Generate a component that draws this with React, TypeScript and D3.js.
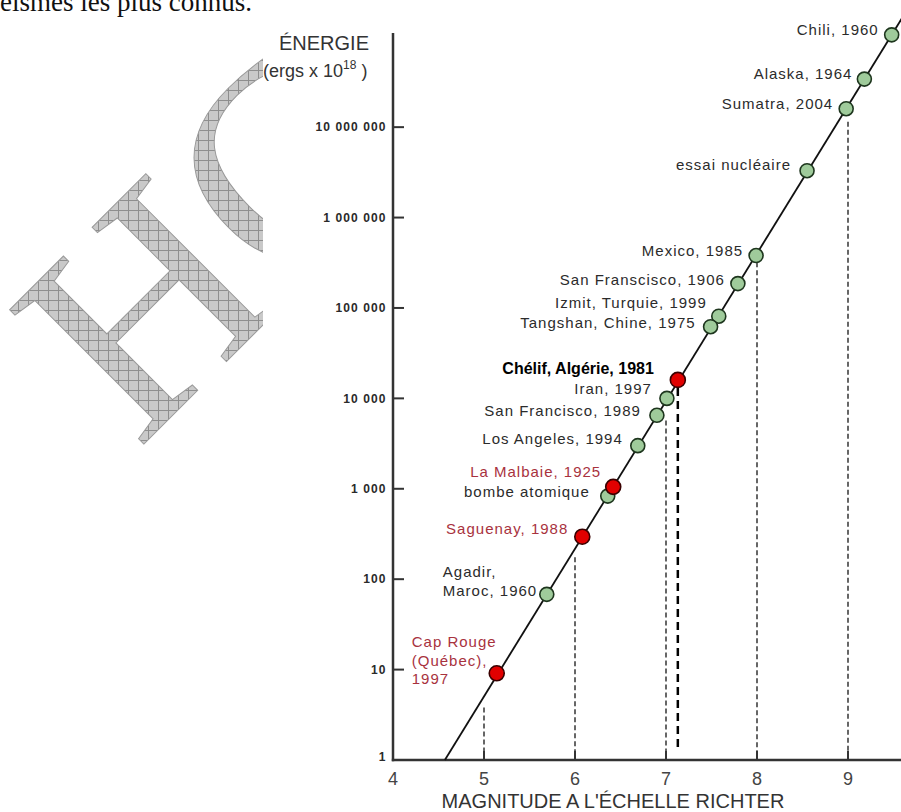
import React from "react";
import * as d3 from "d3";

// séismes : magnitude (Richter) et énergie (ergs x 10^18)
const names = [
  "Chili, 1960",
  "Alaska, 1964",
  "Sumatra, 2004",
  "essai nucléaire",
  "Mexico, 1985",
  "San Franscisco, 1906",
  "Izmit, Turquie, 1999",
  "Tangshan, Chine, 1975",
  "Chélif, Algérie, 1981",
  "Iran, 1997",
  "San Francisco, 1989",
  "Los Angeles, 1994",
  "La Malbaie, 1925",
  "bombe atomique",
  "Saguenay, 1988",
  "Agadir,|Maroc, 1960",
  "Cap Rouge|(Québec),|1997",
];
const magnitudes = [9.48, 9.18, 8.98, 8.55, 7.99, 7.79, 7.58, 7.49, 7.13, 7.01, 6.9, 6.69, 6.42, 6.36, 6.08, 5.69, 5.14];
const energies = [1.05e8, 3.4e7, 1.6e7, 3.3e6, 3.8e5, 1.86e5, 8.1e4, 6.2e4, 1.6e4, 1.0e4, 6.5e3, 3.0e3, 1.05e3, 830, 295, 68, 9.1];
const kinds = [
  "monde", "monde", "monde", "monde", "monde", "monde", "monde", "monde",
  "algerie", "monde", "monde", "monde", "quebec", "monde", "quebec", "monde", "quebec",
];

// droite magnitude / énergie
const lineMagnitudes = [4.57, 9.75];
const lineEnergies = [1, 2.9e8];

// repères pointillés (magnitude, énergie du haut du trait)
const guideMagnitudes = [5, 6, 7, 8, 9];
const guideTops = [3.8, 175, 5700, 3.2e5, 1.15e7];

const xTicks = [4, 5, 6, 7, 8, 9];
const yTicks = [1, 10, 100, 1000, 1e4, 1e5, 1e6, 1e7];

// placement des étiquettes [dx, dy, ancre]
const labelPlace: [number, number, string][] = [
  [-13, 0, "end"],
  [-12, 0, "end"],
  [-13, 0, "end"],
  [-16, -1, "end"],
  [-13, 0, "end"],
  [-13, 1, "end"],
  [-12, -8, "end"],
  [-15, 1, "end"],
  [-24, -6, "end"],
  [-15, -4, "end"],
  [-16, 1, "end"],
  [-15, -2, "end"],
  [-12, -10, "end"],
  [-18, 1, "end"],
  [-14, -3, "end"],
  [-104, -17, "start"],
  [-85, -26, "start"],
];

const SANS = "'Liberation Sans', Arial, sans-serif";

export default function App() {
  const x = d3.scaleLinear().domain([4, 10]).range([393, 939]);
  const y = d3.scaleLog().domain([1, 1.1e8]).range([760, 33]);
  const fmt = d3
    .formatLocale({ decimal: ",", thousands: " ", grouping: [3], currency: ["", ""] })
    .format(",d");

  const line = d3
    .line<number>()
    .x((i) => x(lineMagnitudes[i]))
    .y((i) => y(lineEnergies[i]));

  const order = d3.range(names.length).sort(
    (a, b) => (kinds[a] === "monde" ? 0 : 1) - (kinds[b] === "monde" ? 0 : 1)
  );
  const chelif = kinds.indexOf("algerie");

  return (
    <svg
      width={901}
      height={812}
      style={{ position: "absolute", left: 0, top: 0, background: "#fff" }}
    >
      <defs>
        <pattern id="hatch" width="10" height="10" patternUnits="userSpaceOnUse" patternTransform="rotate(45)">
          <rect width="10" height="10" fill="#c9c9c9" />
          <path d="M0 0.5H10M0.5 0V10" stroke="#8e8e8e" strokeWidth="1" />
        </pattern>
      </defs>

      {/* filigrane + texte de page */}
      <text
        transform="translate(138,450) rotate(-45)"
        fontFamily="'Liberation Serif', serif"
        fontSize={290}
        fill="url(#hatch)"
        stroke="#9a9a9a"
        strokeWidth={1}
      >
        HC
      </text>
      <text x={252} y={11} textAnchor="end" fontFamily="'Liberation Serif', serif" fontSize={27} fill="#111">
        séismes les plus connus.
      </text>
      <rect x={263} y={14} width={638} height={798} fill="#fff" />

      {/* titre axe y */}
      <text x={324} y={50} textAnchor="middle" fontFamily={SANS} fontSize={20} fill="#333">
        ÉNERGIE
      </text>
      <text x={263} y={77} fontFamily={SANS} fontSize={18} fill="#333">
        (ergs x 10
        <tspan fontSize={12} dy={-8}>18</tspan>
        <tspan dy={8}> )</tspan>
      </text>

      {/* repères pointillés */}
      {guideMagnitudes.map((m, i) => (
        <line
          key={"g" + m}
          x1={x(m)}
          x2={x(m)}
          y1={y(guideTops[i])}
          y2={y(1)}
          stroke="#666"
          strokeWidth={2}
          strokeDasharray="5 3"
        />
      ))}
      <line
        x1={x(magnitudes[chelif])}
        x2={x(magnitudes[chelif])}
        y1={y(energies[chelif]) + 8}
        y2={y(1) - 8}
        stroke="#000"
        strokeWidth={2.5}
        strokeDasharray="8 5"
      />

      {/* axes */}
      <line x1={x(4)} x2={x(4)} y1={y(1.1e8)} y2={y(1) + 1.2} stroke="#333" strokeWidth={2.5} />
      <line x1={x(4) - 1.2} x2={901} y1={y(1)} y2={y(1)} stroke="#333" strokeWidth={2.5} />
      {yTicks.map((v) => (
        <g key={"y" + v}>
          {v > 1 && <line x1={x(4)} x2={x(4) + 11} y1={y(v)} y2={y(v)} stroke="#333" strokeWidth={2} />}
          <text
            x={386.5}
            y={y(v) - (v === 1 ? 3 : 0)}
            dy="0.35em"
            textAnchor="end"
            fontFamily={SANS}
            fontSize={12}
            fontWeight="bold"
            letterSpacing={1.1}
            fill="#2a2a2a"
          >
            {fmt(v)}
          </text>
        </g>
      ))}
      {xTicks.map((v) => (
        <g key={"x" + v}>
          {v > 4 && <line x1={x(v)} x2={x(v)} y1={y(1)} y2={y(1) - 9} stroke="#333" strokeWidth={2} />}
          <text x={x(v)} y={785} textAnchor="middle" fontFamily={SANS} fontSize={18} fill="#444">
            {v}
          </text>
        </g>
      ))}
      <text x={613} y={808} textAnchor="middle" fontFamily={SANS} fontSize={20} fill="#333">
        MAGNITUDE A L'ÉCHELLE RICHTER
      </text>

      {/* droite */}
      <path d={line([0, 1]) || ""} fill="none" stroke="#111" strokeWidth={1.8} />

      {/* points */}
      {order.map((i) => {
        const red = kinds[i] !== "monde";
        return (
          <circle
            key={"p" + i}
            cx={x(magnitudes[i])}
            cy={y(energies[i])}
            r={red ? 7.5 : 7}
            fill={red ? "#e10000" : "#9fcb9b"}
            stroke={red ? "#3a0000" : "#1e361e"}
            strokeWidth={1.6}
          />
        );
      })}

      {/* étiquettes */}
      {names.map((n, i) => {
        const [dx, dy, anchor] = labelPlace[i];
        const px = x(magnitudes[i]) + dx;
        const py = y(energies[i]) + dy;
        const bold = kinds[i] === "algerie";
        const color = kinds[i] === "quebec" ? "#a8323e" : bold ? "#000" : "#2b2b2b";
        return (
          <text
            key={"l" + i}
            x={px}
            y={py}
            dy="0.35em"
            textAnchor={anchor}
            fontFamily={SANS}
            fontSize={bold ? 16 : 15}
            fontWeight={bold ? "bold" : "normal"}
            letterSpacing={bold ? 0 : 1}
            fill={color}
          >
            {n.split("|").map((s, k) => (
              <tspan key={k} x={px} dy={k === 0 ? 0 : 18.5}>
                {s}
              </tspan>
            ))}
          </text>
        );
      })}
    </svg>
  );
}
